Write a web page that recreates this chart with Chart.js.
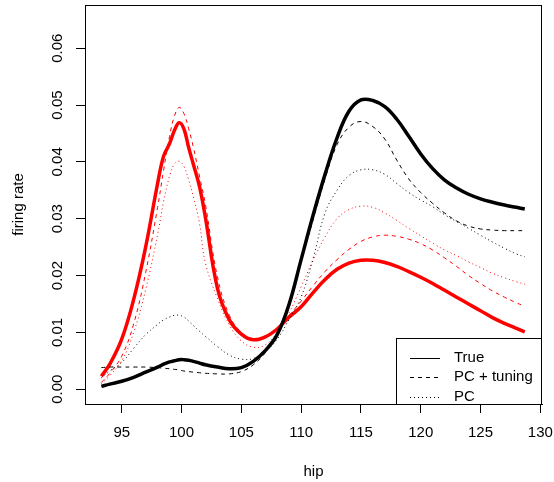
<!DOCTYPE html>
<html>
<head>
<meta charset="utf-8">
<title>firing rate vs hip</title>
<script src="https://cdn.jsdelivr.net/npm/chart.js@4.4.0/dist/chart.umd.min.js"></script>
<style>
body { margin: 0; background: #fff; }
canvas { display: block; }
</style>
</head>
<body>
<canvas id="rateChart" width="554" height="482"></canvas>
<script>
// values
var hip = [93.3, 94, 95, 96, 97, 98, 98.5, 99, 99.4, 99.8, 100.2, 100.6, 101, 101.5, 102, 103, 104, 105, 106, 107,
  108, 109, 110, 111, 112, 113, 114, 115, 116, 117, 118, 119, 120, 121, 122, 123, 124, 125, 126, 127, 128, 128.7];

var trueBlack = [0.0005, 0.0009, 0.0014, 0.0021, 0.0030, 0.0039, 0.0044, 0.0048, 0.0050, 0.0052, 0.0052, 0.0051, 0.0049, 0.0046, 0.0043, 0.0039, 0.0036, 0.0038, 0.0049, 0.0068,
  0.0096, 0.0150, 0.0228, 0.0306, 0.0378, 0.0442, 0.0489, 0.0509, 0.0508, 0.0497, 0.0475, 0.0445, 0.0414, 0.0388, 0.0368, 0.0354, 0.0343, 0.0335, 0.0329, 0.0324, 0.0320, 0.0317];
var tuneBlack = [0.0038, 0.0039, 0.0039, 0.0039, 0.0039, 0.0038, 0.0037, 0.0036, 0.0035, 0.0034, 0.0032, 0.0031, 0.0030, 0.0029, 0.0028, 0.0027, 0.0027, 0.0031, 0.0043, 0.0064,
  0.0094, 0.0145, 0.0225, 0.0298, 0.0370, 0.0430, 0.0461, 0.0471, 0.0462, 0.0440, 0.0403, 0.0370, 0.0346, 0.0327, 0.0310, 0.0296, 0.0287, 0.0282, 0.0280, 0.0279, 0.0279, 0.0279];
var pcBlack = [0.0020, 0.0032, 0.0047, 0.0072, 0.0096, 0.0114, 0.0122, 0.0127, 0.0130, 0.0130, 0.0127, 0.0120, 0.0112, 0.0102, 0.0093, 0.0075, 0.0060, 0.0053, 0.0054, 0.0066,
  0.0088, 0.0123, 0.0162, 0.0230, 0.0310, 0.0350, 0.0376, 0.0386, 0.0386, 0.0378, 0.0362, 0.0346, 0.0333, 0.0321, 0.0307, 0.0295, 0.0283, 0.0271, 0.0259, 0.0248, 0.0238, 0.0233];

var trueRed = [0.0023, 0.0044, 0.0088, 0.0158, 0.0250, 0.0362, 0.0410, 0.0432, 0.0455, 0.0469, 0.0458, 0.0425, 0.0395, 0.0357, 0.0302, 0.0178, 0.0122, 0.0097, 0.0087, 0.0092,
  0.0106, 0.0127, 0.0145, 0.0170, 0.0193, 0.0211, 0.0222, 0.0227, 0.0227, 0.0223, 0.0216, 0.0207, 0.0197, 0.0186, 0.0174, 0.0162, 0.0150, 0.0138, 0.0126, 0.0116, 0.0107, 0.0101];
var tuneRed = [0.0012, 0.0028, 0.0058, 0.0115, 0.0205, 0.0320, 0.0385, 0.0445, 0.0480, 0.0496, 0.0485, 0.0458, 0.0425, 0.0375, 0.0325, 0.0198, 0.0130, 0.0100, 0.0089, 0.0094,
  0.0107, 0.0130, 0.0155, 0.0182, 0.0207, 0.0228, 0.0246, 0.0260, 0.0268, 0.0271, 0.0269, 0.0264, 0.0256, 0.0245, 0.0231, 0.0216, 0.0200, 0.0186, 0.0173, 0.0162, 0.0152, 0.0146];
var pcRed = [0.0010, 0.0024, 0.0050, 0.0100, 0.0175, 0.0272, 0.0330, 0.0375, 0.0396, 0.0401, 0.0392, 0.0368, 0.0338, 0.0292, 0.0222, 0.0160, 0.0113, 0.0085, 0.0074, 0.0078,
  0.0100, 0.0135, 0.0180, 0.0227, 0.0268, 0.0300, 0.0316, 0.0322, 0.0320, 0.0310, 0.0297, 0.0283, 0.0270, 0.0257, 0.0245, 0.0235, 0.0224, 0.0214, 0.0204, 0.0196, 0.0189, 0.0185];

var xTicks = [95, 100, 105, 110, 115, 120, 125, 130];
var yTicks = [0, 0.01, 0.02, 0.03, 0.04, 0.05, 0.06];
var yTickLabels = ["0.00", "0.01", "0.02", "0.03", "0.04", "0.05", "0.06"];
var legendLabels = ["True", "PC + tuning", "PC"];

var FONT = "'Liberation Sans', Arial, Helvetica, sans-serif";

function pts(ys) {
  return hip.map(function (x, i) { return { x: x, y: ys[i] }; });
}

function series(label, ys, color, width, dash) {
  return {
    label: label,
    data: pts(ys),
    borderColor: color,
    borderWidth: width,
    borderDash: dash,
    pointRadius: 0,
    fill: false,
    tension: 0.4
  };
}

// box, rotated y labels and the R style legend
var rStyle = {
  id: 'rStyle',
  afterDraw: function (chart) {
    var ctx = chart.ctx;
    var a = chart.chartArea;
    var ys = chart.scales.y;

    ctx.save();
    ctx.strokeStyle = '#000';
    ctx.lineWidth = 1;
    ctx.strokeRect(Math.round(a.left) + 0.5, Math.round(a.top) + 0.5,
      Math.round(a.right - a.left) - 1, Math.round(a.bottom - a.top));

    ctx.fillStyle = '#000';
    ctx.font = '15px ' + FONT;
    ctx.textAlign = 'center';
    ctx.textBaseline = 'middle';
    yTicks.forEach(function (v, i) {
      ctx.save();
      ctx.translate(58, ys.getPixelForValue(v));
      ctx.rotate(-Math.PI / 2);
      ctx.fillText(yTickLabels[i], 0, 0);
      ctx.restore();
    });

    // legend box in bottom right corner
    var lx = 396.5, ly = 338.5, lw = Math.round(a.right) - 397, lh = Math.round(a.bottom) - 338;
    ctx.fillStyle = '#fff';
    ctx.fillRect(lx, ly, lw, lh);
    ctx.strokeRect(lx, ly, lw, lh);
    var dashes = [[], [4, 4], [1, 3]];
    ctx.textAlign = 'left';
    legendLabels.forEach(function (t, i) {
      var yy = 357.5 + i * 19.5;
      ctx.setLineDash(dashes[i]);
      ctx.beginPath();
      ctx.moveTo(410, Math.round(yy) + 0.5);
      ctx.lineTo(440, Math.round(yy) + 0.5);
      ctx.stroke();
      ctx.fillStyle = '#000';
      ctx.fillText(t, 454, yy);
    });
    ctx.restore();
  }
};

new Chart(document.getElementById('rateChart'), {
  type: 'line',
  data: {
    datasets: [
      series('True', trueBlack, '#000000', 3.5, []),
      series('PC + tuning', tuneBlack, '#000000', 1, [4, 4]),
      series('PC', pcBlack, '#000000', 1, [1, 3]),
      series('True (red)', trueRed, '#ff0000', 3.5, []),
      series('PC + tuning (red)', tuneRed, '#ff0000', 1, [4, 4]),
      series('PC (red)', pcRed, '#ff0000', 1, [1, 3])
    ]
  },
  options: {
    responsive: false,
    animation: false,
    devicePixelRatio: 1,
    layout: { padding: { top: 5, right: 12, left: 0, bottom: 0 } },
    plugins: {
      legend: { display: false },
      tooltip: { enabled: false }
    },
    scales: {
      x: {
        type: 'linear',
        min: 91.93,
        max: 130.14,
        afterBuildTicks: function (s) { s.ticks = xTicks.map(function (v) { return { value: v }; }); },
        afterFit: function (s) { s.height = 78; s.paddingLeft = 0; s.paddingRight = 0; },
        grid: { drawOnChartArea: false, tickLength: 9, color: '#000', tickColor: '#000' },
        border: { color: '#000', width: 1 },
        ticks: { color: '#000', font: { family: FONT, size: 15 }, padding: 11, maxRotation: 0, autoSkip: false },
        title: { display: true, text: 'hip', color: '#000', font: { family: FONT, size: 15 }, padding: { top: 0, bottom: 1 } }
      },
      y: {
        type: 'linear',
        min: -0.0026,
        max: 0.0676,
        afterBuildTicks: function (s) { s.ticks = yTicks.map(function (v) { return { value: v }; }); },
        afterFit: function (s) { s.width = 85; s.paddingTop = 0; s.paddingBottom = 0; },
        grid: { drawOnChartArea: false, tickLength: 9, color: '#000', tickColor: '#000' },
        border: { color: '#000', width: 1 },
        ticks: { display: false },
        title: { display: true, text: 'firing rate', color: '#000', font: { family: FONT, size: 15 }, padding: { top: 10, bottom: 0 } }
      }
    }
  },
  plugins: [rStyle]
});
</script>
</body>
</html>
